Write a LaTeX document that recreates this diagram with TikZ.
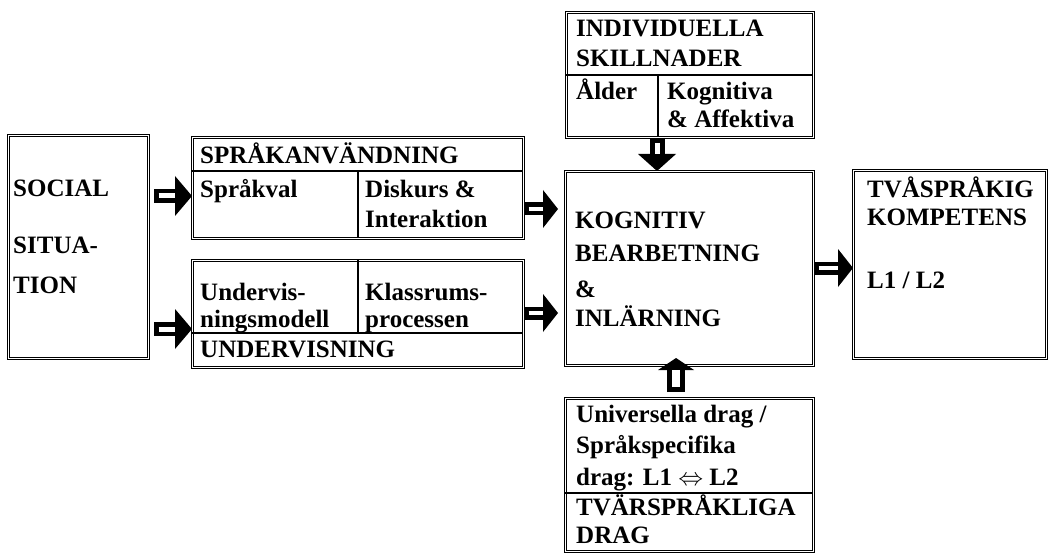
\documentclass[tikz,border=0pt]{standalone}
\usepackage{fontspec}
\setmainfont{Liberation Serif}
\usetikzlibrary{arrows.meta}

\tikzset{
  box/.style={draw, double, double distance=1.6pt, line width=1pt, inner sep=0pt, anchor=north west},
  txt/.style={anchor=base west, align=left, inner sep=0pt, font=\fontsize{25}{29}\selectfont\bfseries},
  split/.style={line width=1.1pt},
  % shaft width, inner white width, head width, head length
  hollow/.style n args={4}{line width=#1, -{Triangle[width=#3,length=#4,line width=0pt]},
    postaction={draw=white, line width=#2, -, shorten <=(#1-#2)/2, shorten >=#4}},
}

\begin{document}
\begin{tikzpicture}[x=1pt,y=-1pt]
\useasboundingbox (0,0) rectangle (1048,553);

% boxes
\node[box, minimum width=140pt, minimum height=223pt] (soc) at (8,135) {};
\node[box, minimum width=331pt, minimum height=101pt] (lang) at (192,137) {};
\node[box, minimum width=331pt, minimum height=107pt] (teach) at (192,260) {};
\node[box, minimum width=247pt, minimum height=125pt] (indiv) at (566,12) {};
\node[box, minimum width=248pt, minimum height=194pt] (kog) at (565,171) {};
\node[box, minimum width=248pt, minimum height=153pt] (cross) at (565,398) {};
\node[box, minimum width=193pt, minimum height=188pt] (comp) at (853,170) {};

% inner dividers
\draw[split] (192,171) -- (523,171);
\draw[split] (358,171) -- (358,238);
\draw[split] (192,333) -- (523,333);
\draw[split] (358,260) -- (358,333);
\draw[split] (566,75) -- (813,75);
\draw[split] (658,75) -- (658,137);
\draw[split] (565,493) -- (813,493);

% texts (placed at the baseline of the last line)
\node[txt] (socT) at (13,293) {SOCIAL\\[28pt]SITUA-\\[11pt]TION};
\node[txt] (langT) at (200,164) {SPRÅKANVÄNDNING};
\node[txt] (choice) at (200,198) {Språkval};
\node[txt] (disc) at (365,227) {Diskurs \&\\Interaktion};
\node[txt] (model) at (200,327) {Undervis-\\[-2pt]ningsmodell};
\node[txt] (room) at (365,327) {Klassrums-\\[-2pt]processen};
\node[txt] (teachT) at (200,357) {UNDERVISNING};
\node[txt] (indivT) at (576,67) {INDIVIDUELLA\\[1pt]SKILLNADER};
\node[txt] (age) at (576,100) {Ålder};
\node[txt] (affect) at (667,128) {Kognitiva\\[-1pt]\& Affektiva};
\node[txt] (kogT) at (575,326) {KOGNITIV\\[4pt]BEARBETNING\\[7pt]\&\\INLÄRNING};
\node[txt] (crossT) at (576,543) {Universella drag /\\[2pt]Språkspecifika\\[3pt]drag: L1 $\Leftrightarrow$ L2\\[1pt]TVÄRSPRÅKLIGA\\[-1pt]DRAG};
\node[txt] (compT) at (867,288) {TVÅSPRÅKIG\\[-1pt]KOMPETENS\\[34pt]L1 / L2};

% arrows
\coordinate (r1) at (154,196);
\coordinate (r2) at (154,329);
\coordinate (r3) at (558,209);
\coordinate (r4) at (558,313);
\coordinate (r5) at (0,268);
\coordinate (c1) at (657,0);
\coordinate (c2) at (676,392);
\coordinate (c3) at (676,358);

\draw[hollow={14pt}{5pt}{40pt}{17pt}] (r1) -- (lang.west |- r1);
\draw[hollow={14pt}{5pt}{40pt}{17pt}] (r2) -- (teach.west |- r2);
\draw[hollow={13pt}{4pt}{38pt}{15pt}] (lang.east |- r3) -- (r3);
\draw[hollow={13pt}{4pt}{38pt}{15pt}] (teach.east |- r4) -- (r4);
\draw[hollow={13pt}{4pt}{38pt}{15pt}] (kog.east |- r5) -- (comp.west |- r5);
\draw[hollow={15pt}{5pt}{38pt}{17pt}] (indiv.south -| c1) -- (kog.north -| c1);
\draw[hollow={18pt}{8pt}{36pt}{12pt}] (c2) -- (c3);
\end{tikzpicture}
\end{document}
